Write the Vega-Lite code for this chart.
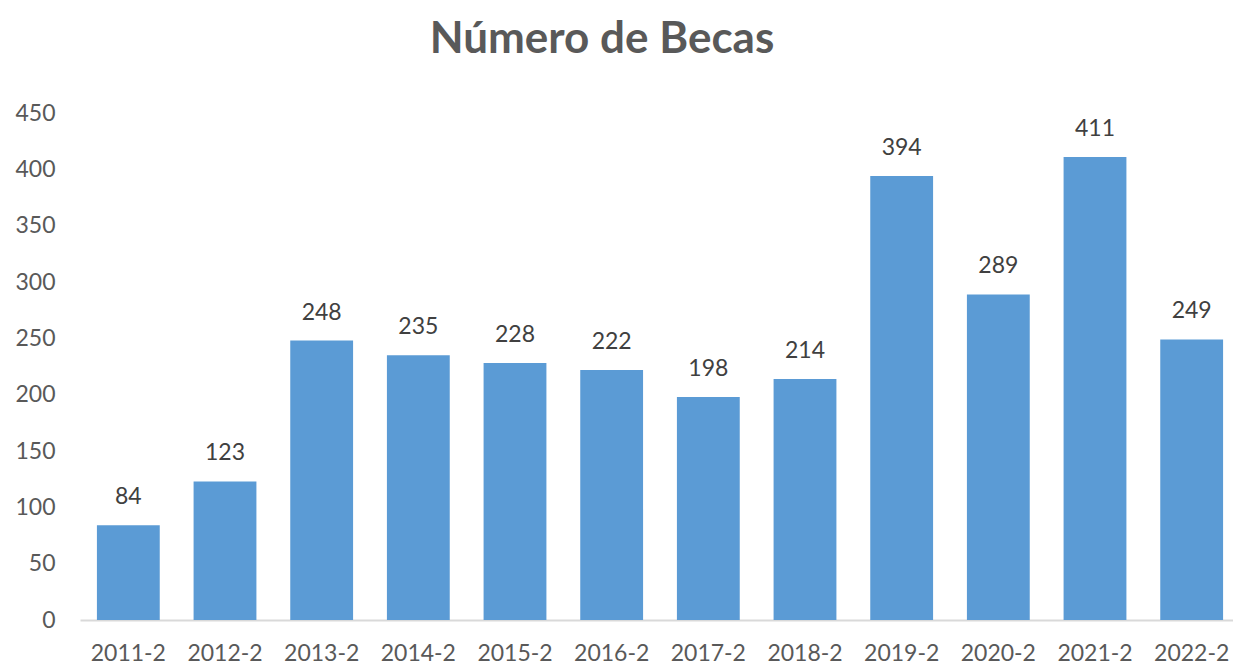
{
  "$schema": "https://vega.github.io/schema/vega-lite/v6.json",
  "autosize": "none",
  "width": 1160,
  "height": 507,
  "padding": {"left": 80, "top": 113, "right": 0, "bottom": 52},
  "background": "white",
  "title": {
    "text": "Número de Becas",
    "font": "Lato",
    "fontSize": 44,
    "fontWeight": "bold",
    "color": "#595959",
    "anchor": "middle",
    "dx": -58,
    "offset": 40
  },
  "data": {
    "values": [
      {"periodo": "2011-2", "becas": 84},
      {"periodo": "2012-2", "becas": 123},
      {"periodo": "2013-2", "becas": 248},
      {"periodo": "2014-2", "becas": 235},
      {"periodo": "2015-2", "becas": 228},
      {"periodo": "2016-2", "becas": 222},
      {"periodo": "2017-2", "becas": 198},
      {"periodo": "2018-2", "becas": 214},
      {"periodo": "2019-2", "becas": 394},
      {"periodo": "2020-2", "becas": 289},
      {"periodo": "2021-2", "becas": 411},
      {"periodo": "2022-2", "becas": 249}
    ]
  },
  "encoding": {
    "x": {
      "field": "periodo",
      "type": "nominal",
      "sort": null,
      "scale": {"paddingInner": 0.35, "paddingOuter": 0.175},
      "axis": {
        "title": null,
        "labelAngle": 0,
        "labelFont": "Lato",
        "labelFontSize": 23,
        "labelColor": "#595959",
        "labelPadding": 22,
        "ticks": false,
        "domainColor": "#d9d9d9",
        "domainWidth": 2,
        "grid": false
      }
    },
    "y": {
      "field": "becas",
      "type": "quantitative",
      "scale": {"domain": [0, 450], "nice": false},
      "axis": {
        "title": null,
        "values": [0, 50, 100, 150, 200, 250, 300, 350, 400, 450],
        "labelFont": "Lato",
        "labelFontSize": 23,
        "labelColor": "#595959",
        "labelPadding": 25,
        "ticks": false,
        "domain": false,
        "grid": false
      }
    }
  },
  "layer": [
    {"mark": {"type": "bar", "color": "#5B9BD5"}},
    {
      "mark": {
        "type": "text",
        "baseline": "alphabetic",
        "dy": -21,
        "font": "Lato",
        "fontSize": 23,
        "color": "#404040"
      },
      "encoding": {"text": {"field": "becas", "type": "quantitative"}}
    }
  ],
  "config": {"view": {"stroke": null}}
}
